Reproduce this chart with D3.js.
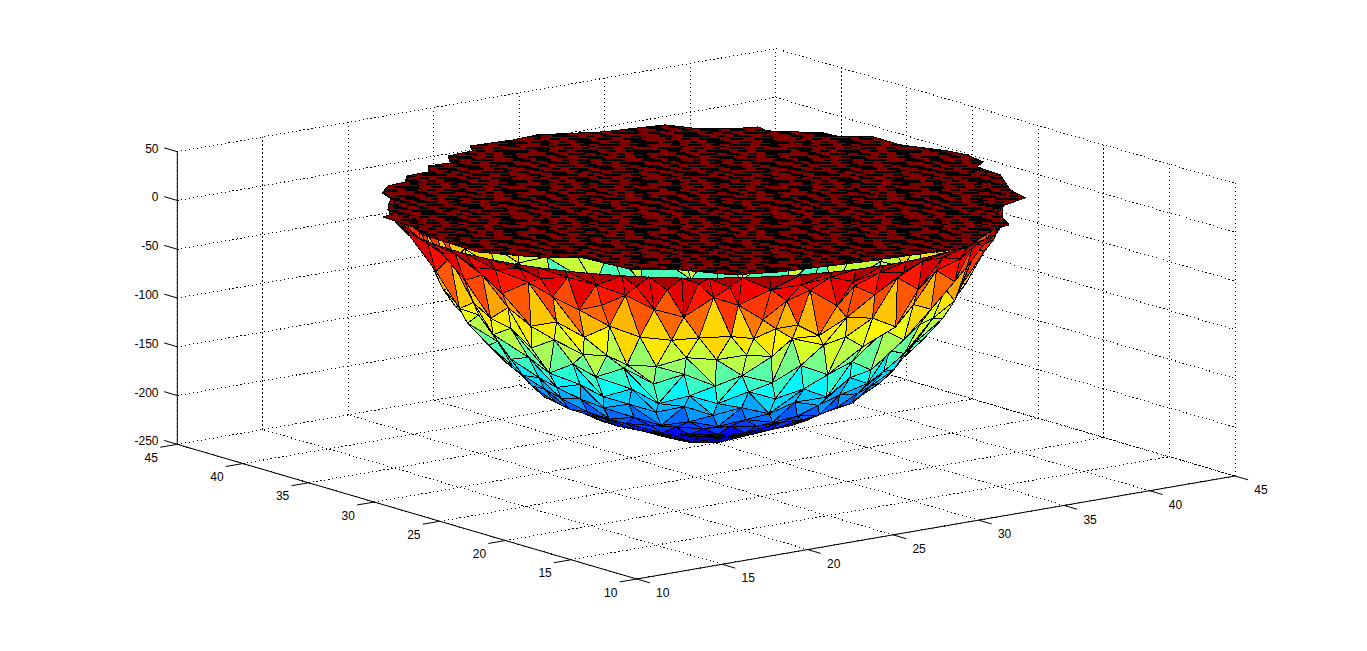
<!DOCTYPE html>
<html lang="en">

<head>
    <meta charset="UTF-8">
    <title>trisurf bowl</title>
    <style>
        html, body { margin: 0; padding: 0; background: #fff; overflow: hidden; }
        svg { display: block; }
        text { font-family: "Liberation Sans", Arial, sans-serif; font-size: 12px; fill: #000; }
    </style>
</head>

<body>
    <script src="https://d3js.org/d3.v7.min.js"></script>
    <script>
        var xTicks = [10, 15, 20, 25, 30, 35, 40, 45];
        var yTicks = [10, 15, 20, 25, 30, 35, 40, 45];
        var zTicks = [-250, -200, -150, -100, -50, 0, 50];

        // bowl: rings of nodes, radius and height
        var bowlCenter = [27.39, 27.59];
        var ringRadius = [14.6, 13.9, 13.2, 12.2, 11.5, 10.3, 9.3, 8.5, 7.6, 6.6, 5.4, 4.2, 3, 1.7, 0];
        var ringHeight = [9, -3, -22, -62, -86, -116, -141, -158, -175, -185, -197, -205, -214, -224, -228];
        // angle of each node round the ring, 90 is the side facing the viewer
        var ringAngles = [
            [-28, -22, -17, 22, 28, 33, 39, 44, 50, 55, 61, 66, 72, 78, 83, 89, 94, 100, 105, 111, 116, 122, 127, 133, 139, 144, 150, 155, 161, 166, 172, 178, 183, 189, 194, 200, 205, 211, 225, 250, 275, 300, 320],
            [-25, -19, -14, -8, -2, 3, 9, 14, 20, 26, 31, 37, 43, 48, 54, 60, 65, 71, 77, 85, 91, 97, 103, 111, 117, 123, 128, 134, 140, 146, 151, 157, 163, 168, 174, 180, 186, 192, 197, 203, 209, 240, 270, 300, 328],
            [-22, -16, -10, -3, 3, 9, 16, 22, 28, 35, 41, 47, 53, 58, 62, 68, 73, 78, 83, 88, 94, 100, 106, 111, 116, 122, 128, 135, 141, 147, 153, 160, 166, 172, 178, 185, 191, 197, 204, 225, 255, 285, 315],
            [-24, -17, -10, -4, 3, 10, 17, 23, 30, 37, 43, 50, 57, 64, 69, 74, 79, 84, 91, 97, 104, 111, 117, 124, 131, 138, 144, 151, 158, 164, 171, 178, 185, 191, 198, 205, 215, 225, 235, 245, 255, 265, 275, 285, 295, 305, 315, 325],
            [-20, -13, -6, 1, 8, 15, 22, 29, 36, 43, 50, 55, 61, 69, 74, 80, 87, 94, 101, 108, 113, 119, 127, 134, 141, 148, 155, 162, 169, 176, 183, 190, 197, 204, 214, 222, 231, 239, 248, 256, 265, 273, 282, 290, 299, 307, 316, 324, 333],
            [-22, -14, -6, 2, 9, 17, 25, 33, 41, 48, 56, 64, 72, 80, 87, 95, 103, 111, 119, 126, 134, 142, 150, 158, 165, 173, 181, 189, 197, 204, 215, 228, 241, 254, 267, 280, 293, 306, 319, 332],
            [-25, -16, -8, 1, 9, 18, 26, 35, 43, 52, 60, 69, 77, 86, 94, 103, 111, 120, 128, 137, 145, 154, 162, 171, 179, 188, 196, 205, 225, 250, 275, 300, 325],
            [-21, -12, -3, 6, 15, 24, 33, 42, 51, 60, 69, 78, 87, 96, 105, 114, 123, 132, 141, 150, 159, 168, 177, 186, 195, 204, 240, 270, 300],
            [-25, -15, -5, 5, 15, 25, 35, 45, 55, 65, 75, 85, 95, 105, 115, 125, 135, 145, 155, 165, 175, 185, 195, 205, 240, 280, 320],
            [-20, -9, 2, 13, 24, 35, 46, 57, 68, 79, 90, 101, 112, 123, 134, 145, 156, 167, 178, 189, 200, 230, 270, 310],
            [-15, -1, 13, 27, 41, 55, 69, 83, 97, 111, 125, 139, 153, 167, 181, 195, 240, 290],
            [-10, 7, 24, 41, 58, 75, 92, 109, 126, 143, 160, 177, 194, 250, 300],
            [0, 25, 50, 75, 100, 125, 150, 175, 240, 300],
            [20, 65, 110, 155, 270],
            [0]
        ];
        // how far each node sits above or below its ring, nodes not listed sit on it
        var ringBump = [
            [],
            [2, -4, 1, -3, 3, -2, 4, -4, -1, 3, -5, 2, 4, -3, 1, -4, 3, -2, -5, -1, 3, -4, -2, -3, 2, -3, 4, -2, -5, 3, -1, 2, -4, 3, -3, 1, 4, -2, 2, -3, 1],
            [3, -5, 2, -6, 3, -4, 7, -5, -14, 4, -10, 7, -6, 6, -12, 7, -2, -20, -4, 4, -16, -9, 4, -8, -15, -5, 6, -11, 3, -8, 9, -12, -3, 7, -5, 2, -3, 3, -1],
            [-3, 4, -2, 5, -4, 3, -7, 11, -3, 8, -10, 4, 9, -6, 7, 5, -4, -1, -2, -5, -3, 6, -8, 4, -5, 9, -7, 3, -10, 6, -4, 5, -4, 3, -2, 3],
            [3, -2, 4, -3, 2, -4, 3, 3, -7, 8, -4, 9, 4, 14, -3, 0, -4, -2, -12, -12, -4, -6, 5, -8, 7, -5, 9, -6, 4, -3, 3, -1, 3, -2],
            [-2, 3, -2, 2, -3, 2, -3, 6, -8, 5, -4, 9, -6, 3, -7, 5, -6, 8, -4, 6, -8, 3, -5, 7, -3, 2, -2, 3, -1, 2],
            [2, -2, 3, -2, 1, -2, 2, -4, 7, -8, 4, -3, 6, -5, 3, -6, 7, -4, 5, -3, 2, -2, 2, -1, 3, -2, 2, -1],
            [-1, 2, -1, 2, -2, 1, -1, 3, -3, 4, -5, 3, -4, 5, -2, 4, -3, 2, -2, 2, -1, 2, -1, 2, -2, 1],
            [1, -1, 2, -1, 1, -1, 1, -2, 1, -2, 3, -3, 2, -3, 3, -2, 1, -1, 1, -1, 1, -1, 1, -1],
            [1, -1, 1, 1, 1, 1, 0, 1, 0, 2, 0, 1, 1, 0, 1, 1, 1, 1, 0, 1, 0],
            [],
            [],
            [0, 0, 0, 1, -3, 1, 0, 0],
            [],
            []
        ];

        // the dense flat top, only its jagged outline can be read
        var lidHeight = 14;
        var lidX = [16.78, 17.88, 19.01, 19.84, 21.12, 21.87, 23.06, 23.87, 25.39, 25.94, 28.28, 29.79, 32.61, 34.85, 35.77, 36.55, 38.53, 38.94, 38.78, 40.59, 40.72, 41.93, 41.92, 42.90, 43.13, 42.84, 41.99, 41.84, 40.32, 39.87, 37.81, 37.07, 35.88, 34.66, 32.29, 31.44, 28.57, 25.85, 21.52, 19.41, 18.09, 16.35, 16.02, 14.30, 12.86, 13.01, 13.65, 13.80, 14.98, 14.83, 15.75, 16.30];
        var lidY = [38.22, 39.20, 39.37, 40.30, 40.37, 41.35, 41.22, 42.42, 42.57, 43.44, 43.21, 43.36, 41.99, 41.57, 41.38, 39.75, 38.50, 38.44, 37.53, 35.62, 34.50, 33.57, 31.50, 29.19, 27.97, 26.38, 25.73, 23.77, 21.03, 19.30, 18.53, 17.79, 15.33, 14.96, 13.40, 12.75, 13.12, 13.39, 14.08, 14.92, 17.23, 18.55, 21.92, 23.50, 25.89, 30.20, 31.79, 34.26, 34.66, 35.30, 35.90, 36.77];

        var width = 1367, height = 651;
        var viewAzimuth = 37.4;
        var colorLimits = [-228, 20];

        var svg = d3.select('body').append('svg').attr('width', width).attr('height', height);

        // axis box on screen, as offsets from the front corner
        var corner = [636.7, 579];
        var xToX = d3.scaleLinear().domain([10, 45]).range([0, 598.3]);
        var xToY = d3.scaleLinear().domain([10, 45]).range([0, -103]);
        var yToX = d3.scaleLinear().domain([10, 45]).range([0, -459.4]);
        var yToY = d3.scaleLinear().domain([10, 45]).range([0, -134.7]);
        var zToY = d3.scaleLinear().domain([-250, 50]).range([0, -292.6]);

        function project(x, y, z) {
            return [
                corner[0] + xToX(x) + yToX(y),
                corner[1] + xToY(x) + yToY(y) + zToY(z)
            ];
        }

        // jet colormap with 64 levels
        var jet = d3.scaleLinear()
            .domain([0, 0.125, 0.375, 0.625, 0.875, 1])
            .range(['#000080', '#0000ff', '#00ffff', '#ffff00', '#ff0000', '#800000'])
            .clamp(true);
        var level = d3.scaleQuantize().domain(colorLimits).range(d3.range(64));

        function seg(g, p, q, cls) {
            g.append('line')
                .attr('x1', p[0]).attr('y1', p[1])
                .attr('x2', q[0]).attr('y2', q[1])
                .attr('stroke', '#000')
                .attr('stroke-width', 1)
                .attr('stroke-dasharray', cls === 'grid' ? '1.2 2.8' : null);
        }

        var grid = svg.append('g').attr('shape-rendering', 'crispEdges');
        xTicks.forEach(function (t) {
            seg(grid, project(t, 10, -250), project(t, 45, -250), 'grid');
            seg(grid, project(t, 45, -250), project(t, 45, 50), 'grid');
        });
        yTicks.forEach(function (t) {
            seg(grid, project(10, t, -250), project(45, t, -250), 'grid');
            seg(grid, project(45, t, -250), project(45, t, 50), 'grid');
        });
        zTicks.forEach(function (t) {
            seg(grid, project(10, 45, t), project(45, 45, t), 'grid');
            seg(grid, project(45, 45, t), project(45, 10, t), 'grid');
        });

        // mesh nodes
        var nodes = [];
        ringAngles.forEach(function (angles, i) {
            angles.forEach(function (a, k) {
                var t = (a + viewAzimuth) * Math.PI / 180;
                nodes.push({
                    x: bowlCenter[0] + ringRadius[i] * Math.cos(t),
                    y: bowlCenter[1] - ringRadius[i] * Math.sin(t),
                    z: ringHeight[i] + (ringBump[i][k] || 0)
                });
            });
        });

        var tri = d3.Delaunay.from(nodes, function (d) { return d.x; }, function (d) { return d.y; }).triangles;
        var faces = [];
        for (var i = 0; i < tri.length; i += 3) {
            var f = [nodes[tri[i]], nodes[tri[i + 1]], nodes[tri[i + 2]]];
            // flat colour comes from one vertex, the middle one suits this picture
            var cz = d3.median(f, function (d) { return d.z; });
            // distance towards the viewer, for painting back to front
            var mf = d3.mean(f, function (d) {
                return -0.607 * (d.x - bowlCenter[0]) - 0.795 * (d.y - bowlCenter[1]) + 0.0107 * d.z;
            });
            faces.push({ pts: f, z: cz, depth: mf });
        }
        faces.sort(function (a, b) { return d3.ascending(a.depth, b.depth); });

        svg.append('g')
            .attr('shape-rendering', 'crispEdges')
            .selectAll('polygon')
            .data(faces)
            .enter()
            .append('polygon')
            .attr('points', function (d) {
                return d.pts.map(function (n) { return project(n.x, n.y, n.z).join(','); }).join(' ');
            })
            .attr('fill', function (d) { return jet((level(d.z) + 0.5) / 64); })
            .attr('stroke', '#000')
            .attr('stroke-width', 1);

        // the top is so dense that only broken black edge runs show,
        // runs past the tile end wrap round so no seam shows
        var tileWidth = 131, tileHeight = 39;
        var hatchRows = [
            [[3, 19], [33, 11], [55, 24], [92, 9], [111, 14]],
            [[12, 15], [38, 7], [52, 14], [78, 23], [118, 20]],
            [[7, 9], [24, 21], [55, 12], [78, 9], [96, 24]],
            [[14, 10], [33, 18], [60, 27], [97, 8], [115, 22]],
            [[1, 14], [27, 9], [45, 19], [75, 16], [101, 13]],
            [[19, 23], [50, 8], [67, 10], [88, 27], [124, 12]],
            [[5, 12], [28, 26], [63, 7], [79, 18], [107, 10]],
            [[10, 6], [26, 10], [44, 21], [74, 14], [99, 19]],
            [[8, 17], [35, 7], [51, 24], [85, 11], [106, 28]],
            [[16, 9], [33, 14], [56, 9], [74, 21], [105, 18]],
            [[2, 24], [39, 10], [58, 7], [74, 16], [100, 9]],
            [[13, 12], [34, 9], [51, 23], [83, 9], [101, 35]],
            [[21, 14], [44, 18], [72, 12], [93, 8], [110, 13]]
        ];
        var pattern = svg.append('defs').append('pattern')
            .attr('id', 'lidHatch')
            .attr('patternUnits', 'userSpaceOnUse')
            .attr('width', tileWidth)
            .attr('height', tileHeight);
        pattern.append('rect').attr('width', tileWidth).attr('height', tileHeight).attr('fill', '#800000')
            .attr('shape-rendering', 'crispEdges');
        function hatch(x0, y0, w, h) {
            pattern.append('rect')
                .attr('x', x0).attr('y', y0)
                .attr('width', w).attr('height', h)
                .attr('fill', '#000')
                .attr('shape-rendering', 'crispEdges');
        }
        hatchRows.forEach(function (row, r) {
            row.forEach(function (d, k) {
                hatch(d[0], r * 3, d[1], 2);
                hatch(d[0] - tileWidth, r * 3, d[1], 2);
                // thin joins in the row between, every other run
                if (k % 2 === 0) {
                    hatch(d[0] + 9, r * 3 + 2, d[1] * 0.7, 1);
                    hatch(d[0] + 9 - tileWidth, r * 3 + 2, d[1] * 0.7, 1);
                }
            });
        });

        svg.append('polygon')
            .attr('points', lidX.map(function (x, i) { return project(x, lidY[i], lidHeight).join(','); }).join(' '))
            .attr('fill', 'url(#lidHatch)')
            .attr('stroke', '#000')
            .attr('stroke-width', 1)
            .attr('shape-rendering', 'crispEdges');

        // axes and ticks
        var axes = svg.append('g');
        seg(axes, project(10, 45, -250), project(10, 45, 50));
        seg(axes, project(10, 10, -250), project(10, 45, -250));
        seg(axes, project(10, 10, -250), project(45, 10, -250));

        function label(p, txt, anchor) {
            svg.append('text').attr('x', p[0]).attr('y', p[1]).attr('dy', '0.35em')
                .attr('text-anchor', anchor).text(txt);
        }
        zTicks.forEach(function (t) {
            var p = project(10, 45, t);
            seg(axes, p, project(10, 46, t));
            label([158.5, p[1] - 3.2], t, 'end');
        });
        yTicks.forEach(function (t) {
            var p = project(10, t, -250);
            seg(axes, p, project(9, t, -250));
            label([p[0] - 26, p[1] + 13.5], t, 'middle');
        });
        xTicks.forEach(function (t) {
            var p = project(t, 10, -250);
            seg(axes, p, project(t, 9, -250));
            label([p[0] + 26, p[1] + 14], t, 'middle');
        });
    </script>
</body>

</html>
